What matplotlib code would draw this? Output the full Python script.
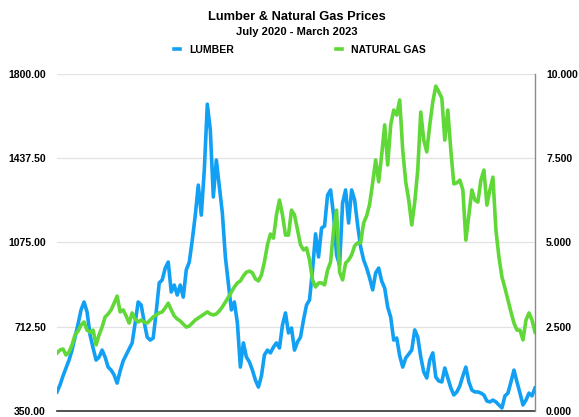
import matplotlib
matplotlib.use("Agg")
import matplotlib.pyplot as plt
from matplotlib.lines import Line2D
from matplotlib.ticker import FixedLocator, FormatStrFormatter
import pandas as pd

# ---- data ----
start_date = "2020-07-01"
end_date = "2023-03-31"

lumber = [432, 462, 501, 535, 569, 612, 668, 724, 785, 819,
          776, 677, 621, 569, 582, 612, 582, 539, 526, 505,
          470, 522, 565, 591, 617, 643, 729, 819, 806, 733,
          668, 655, 664, 776, 901, 914, 965, 991, 862, 892,
          849, 892, 840, 957, 991, 1086, 1193, 1322, 1193, 1387,
          1670, 1559, 1271, 1430, 1314, 1202, 1013, 901, 785, 819,
          729, 539, 643, 582, 561, 526, 483, 453, 501, 591,
          612, 600, 625, 643, 621, 720, 772, 686, 707, 612,
          647, 668, 742, 806, 828, 957, 1112, 1013, 1137, 1146,
          1279, 1301, 1193, 1021, 978, 1245, 1301, 1159, 1301, 1258,
          1150, 1056, 1000, 965, 922, 871, 944, 965, 909, 879,
          797, 754, 655, 664, 587, 539, 578, 595, 612, 699,
          668, 582, 518, 492, 569, 600, 496, 479, 475, 535,
          492, 449, 419, 432, 458, 501, 539, 475, 440, 432,
          432, 427, 419, 393, 389, 397, 389, 376, 363, 415,
          427, 475, 526, 475, 427, 376, 397, 427, 415, 449]

natural_gas = [1.72, 1.81, 1.84, 1.66, 1.75, 1.96, 2.26, 2.37, 2.55, 2.64,
               2.40, 2.34, 2.40, 1.96, 2.26, 2.49, 2.79, 2.88, 3.00, 3.20,
               3.41, 2.94, 3.00, 2.82, 2.61, 2.91, 2.73, 2.64, 2.70, 2.64,
               2.61, 2.70, 2.79, 2.85, 2.91, 2.94, 3.06, 3.20, 3.00, 2.82,
               2.73, 2.67, 2.58, 2.49, 2.52, 2.61, 2.70, 2.76, 2.82, 2.88,
               2.94, 2.88, 2.85, 2.88, 2.97, 3.09, 3.23, 3.38, 3.53, 3.68,
               3.80, 3.86, 4.01, 4.12, 4.15, 4.10, 3.92, 3.86, 4.04, 4.42,
               4.93, 5.25, 5.13, 5.82, 6.26, 5.82, 5.22, 5.22, 5.96, 5.82,
               5.37, 4.93, 4.78, 4.84, 4.48, 3.89, 3.68, 3.80, 3.80, 3.74,
               4.18, 4.42, 5.37, 5.96, 4.12, 3.89, 4.39, 4.48, 4.63, 4.90,
               4.99, 4.99, 5.58, 5.79, 6.14, 6.77, 7.45, 6.80, 7.60, 8.49,
               7.30, 8.49, 8.93, 8.78, 9.23, 7.74, 6.80, 6.26, 5.52, 6.20,
               7.15, 8.87, 8.04, 7.69, 8.49, 9.17, 9.64, 9.47, 9.29, 8.04,
               8.93, 7.74, 6.74, 6.77, 6.85, 6.56, 5.07, 5.82, 6.56, 6.26,
               6.20, 6.85, 7.15, 6.11, 6.56, 6.94, 5.37, 4.57, 3.98, 3.65,
               3.29, 2.94, 2.61, 2.40, 2.40, 2.11, 2.70, 2.91, 2.70, 2.34]

left_ticks = [350.0, 712.5, 1075.0, 1437.5, 1800.0]
right_ticks = [0.0, 2.5, 5.0, 7.5, 10.0]
series_names = ["LUMBER", "NATURAL GAS"]
title = "Lumber & Natural Gas Prices"
subtitle = "July 2020 - March 2023"

n = min(len(lumber), len(natural_gas))
dates = pd.date_range(start_date, end_date, periods=n)

# ---- styling ----
blue = "#12A0F4"
green = "#60D838"
plt.rcParams["font.family"] = ["Liberation Sans", "DejaVu Sans"]

fig = plt.figure(figsize=(5.79, 4.17), dpi=100)
ax = fig.add_axes([57 / 579, 6 / 417, 478 / 579, 337 / 417])
ax2 = ax.twinx()

ax.plot(dates, lumber[:n], color=blue, lw=2.6, solid_joinstyle="round")
ax2.plot(dates, natural_gas[:n], color=green, lw=2.6, solid_joinstyle="round")

ax.set_xlim(dates[0], dates[-1])
ax.set_ylim(left_ticks[0], left_ticks[-1])
ax2.set_ylim(right_ticks[0], right_ticks[-1])

ax.yaxis.set_major_locator(FixedLocator(left_ticks))
ax.yaxis.set_major_formatter(FormatStrFormatter("%.2f"))
ax2.yaxis.set_major_locator(FixedLocator(right_ticks))
ax2.yaxis.set_major_formatter(FormatStrFormatter("%.3f"))

ax.grid(axis="y", color="#e2e2e2", lw=0.9)
ax.set_axisbelow(True)
ax.set_xticks([])
for a in (ax, ax2):
    a.tick_params(axis="y", length=0, labelsize=7.5)
    for s in ("top", "left"):
        a.spines[s].set_visible(False)
ax.spines["right"].set_visible(False)
ax2.spines["bottom"].set_visible(False)
ax.spines["bottom"].set_color("#333333")
ax.spines["bottom"].set_linewidth(1.2)
ax2.spines["right"].set_color("#8a8a8a")
ax2.spines["right"].set_linewidth(1.0)
ax.tick_params(axis="y", pad=8)
ax2.tick_params(axis="y", pad=8)
for lab in ax.get_yticklabels() + ax2.get_yticklabels():
    lab.set_fontweight("bold")

cx = 297 / 579
fig.text(cx, 1 - 17 / 417, title, ha="center", va="center",
         fontsize=9.3, fontweight="bold")
fig.text(cx, 1 - 32 / 417, subtitle, ha="center", va="center",
         fontsize=8, fontweight="bold")

handles = [Line2D([], [], color=blue, lw=2.6), Line2D([], [], color=green, lw=2.6)]
fig.legend(handles, series_names, loc="center", bbox_to_anchor=(300 / 579, 1 - 50 / 417),
           ncol=2, frameon=False, handlelength=0.55, handletextpad=0.9,
           columnspacing=9.8, prop={"size": 7.5, "weight": "bold"})

fig.savefig("out.png", dpi=100)
